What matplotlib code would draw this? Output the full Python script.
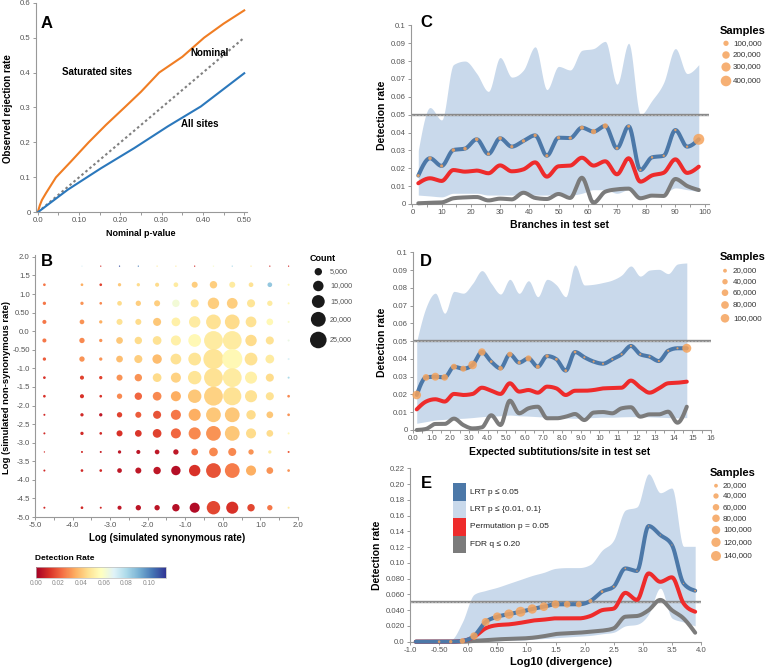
import numpy as np
import matplotlib.pyplot as plt
from matplotlib.colors import Normalize
from matplotlib.cm import ScalarMappable
from matplotlib.patches import Rectangle
from matplotlib.ticker import MultipleLocator

plt.rcParams['font.family'] = ['Liberation Sans', 'DejaVu Sans']

# ---------------- data ----------------
# A: observed vs nominal rejection rate
a_sat_p = [0, 0.005, 0.01, 0.02, 0.044, 0.08, 0.123, 0.165, 0.21, 0.25, 0.294, 0.35, 0.403, 0.45, 0.5]
a_sat = [0, 0.02, 0.035, 0.055, 0.1, 0.145, 0.2, 0.25, 0.3, 0.345, 0.4, 0.445, 0.5, 0.54, 0.578]
a_all_p = [0, 0.073, 0.153, 0.234, 0.315, 0.395, 0.5]
a_all = [0, 0.065, 0.126, 0.184, 0.246, 0.303, 0.398]
a_nominal = [0, 0.5]
a_xticks = [0, 0.1, 0.2, 0.3, 0.4, 0.5]
a_xlabels = ['0.0', '0.10', '0.20', '0.30', '0.40', '0.50']
a_yticks = [0, 0.1, 0.2, 0.3, 0.4, 0.5, 0.6]
a_ylabels = ['0', '0.1', '0.2', '0.3', '0.4', '0.5', '0.6']

# B: grid of simulated rates, count and detection rate per cell
b_x = [-4.75, -3.75, -3.25, -2.75, -2.25, -1.75, -1.25, -0.75, -0.25, 0.25, 0.75, 1.25, 1.75]
b_y = [1.75, 1.25, 0.75, 0.25, -0.25, -0.75, -1.25, -1.75, -2.25, -2.75, -3.25, -3.75, -4.75]
b_count = [
    [0, 150, 150, 150, 150, 150, 150, 150, 150, 150, 150, 150, 150],
    [660, 660, 660, 1000, 1000, 1500, 2000, 3300, 5000, 3300, 2000, 2000, 370],
    [1000, 1000, 660, 2000, 2600, 3300, 5000, 5900, 11800, 10500, 5900, 2600, 370],
    [1500, 2000, 1000, 3300, 3300, 5900, 6900, 11800, 19800, 19800, 10500, 4100, 370],
    [1500, 2600, 1000, 4100, 5000, 6900, 9200, 14800, 32100, 32100, 11800, 5900, 370],
    [1000, 2600, 1000, 4100, 5900, 8000, 10500, 14800, 36900, 36900, 14800, 6900, 370],
    [660, 1500, 1000, 3300, 5000, 6900, 9200, 16400, 32100, 32100, 13300, 5900, 370],
    [660, 1500, 660, 2600, 5000, 6900, 9200, 16400, 32100, 29900, 13300, 5900, 660],
    [370, 1000, 1000, 2600, 3300, 5900, 9200, 13300, 19800, 19800, 8000, 4100, 660],
    [370, 1000, 660, 3300, 4100, 6900, 9200, 13300, 19800, 19800, 9200, 4100, 370],
    [165, 370, 370, 1000, 1500, 2000, 2600, 4100, 6900, 5900, 2600, 1000, 370],
    [370, 660, 660, 2000, 3300, 5000, 8000, 11800, 19800, 19800, 9200, 4100, 660],
    [370, 660, 370, 1500, 2600, 2600, 5000, 9200, 16400, 13300, 5000, 2600, 370],
]
b_rate = [
    [0.05, 0.07, 0.01, 0.11, 0.10, 0.05, 0.05, 0.01, 0.06, 0.08, 0.05, 0.01, 0.01],
    [0.025, 0.035, 0.015, 0.04, 0.045, 0.045, 0.05, 0.042, 0.042, 0.05, 0.047, 0.085, 0.055],
    [0.025, 0.03, 0.028, 0.045, 0.042, 0.042, 0.062, 0.048, 0.042, 0.042, 0.048, 0.05, 0.055],
    [0.025, 0.03, 0.035, 0.047, 0.045, 0.04, 0.052, 0.05, 0.047, 0.045, 0.047, 0.055, 0.06],
    [0.025, 0.028, 0.03, 0.04, 0.045, 0.047, 0.052, 0.055, 0.05, 0.05, 0.045, 0.047, 0.065],
    [0.02, 0.03, 0.03, 0.038, 0.042, 0.038, 0.047, 0.048, 0.048, 0.055, 0.047, 0.05, 0.07],
    [0.012, 0.015, 0.015, 0.03, 0.03, 0.045, 0.043, 0.048, 0.047, 0.05, 0.052, 0.045, 0.08],
    [0.012, 0.012, 0.012, 0.028, 0.022, 0.028, 0.035, 0.04, 0.043, 0.047, 0.047, 0.047, 0.028],
    [0.01, 0.01, 0.006, 0.015, 0.02, 0.018, 0.025, 0.035, 0.04, 0.04, 0.045, 0.04, 0.03],
    [0.01, 0.01, 0.01, 0.012, 0.013, 0.015, 0.022, 0.028, 0.03, 0.04, 0.045, 0.045, 0.055],
    [0.01, 0.01, 0.008, 0.006, 0.005, 0.006, 0.006, 0.025, 0.028, 0.028, 0.03, 0.05, 0.02],
    [0.01, 0.01, 0.01, 0.006, 0.006, 0.006, 0.004, 0.012, 0.018, 0.026, 0.035, 0.03, 0.03],
    [0.01, 0.01, 0.01, 0.006, 0.005, 0.005, 0.004, 0.003, 0.016, 0.012, 0.016, 0.025, 0.05],
]
b_xticks = [-5, -4, -3, -2, -1, 0, 1, 2]
b_xlabels = ['-5.0', '-4.0', '-3.0', '-2.0', '-1.0', '0.0', '1.0', '2.0']
b_yticks = [2.0, 1.5, 1.0, 0.5, 0.0, -0.5, -1.0, -1.5, -2.0, -2.5, -3.0, -3.5, -4.0, -4.5, -5.0]
b_ylabels = ['2.0', '1.5', '1.0', '0.50', '0.0', '-0.50', '-1.0', '-1.5', '-2.0', '-2.5',
             '-3.0', '-3.5', '-4.0', '-4.5', '-5.0']
b_legend = [5000, 10000, 15000, 20000, 25000]
cbar_ticks = [0, 0.02, 0.04, 0.06, 0.08, 0.10]
cbar_labels = ['0.00', '0.02', '0.04', '0.06', '0.08', '0.10']

# C: detection rate vs branches in test set
c_x = [2, 6, 10, 14, 18, 22, 26, 30, 34, 38, 42, 46, 50, 54, 58, 62, 66, 70, 74, 78, 82, 86, 90, 94, 98]
c_lrt = [0.0159, 0.0256, 0.0213, 0.0302, 0.031, 0.0362, 0.028, 0.0368, 0.0321, 0.0353, 0.0384, 0.027, 0.0371,
         0.0369, 0.0427, 0.0405, 0.0437, 0.0312, 0.0435, 0.019, 0.0261, 0.027, 0.0414, 0.0321, 0.0362]
c_perm = [0.0116, 0.0144, 0.0129, 0.019, 0.0181, 0.0187, 0.0172, 0.0216, 0.0183, 0.0194, 0.0233, 0.0153, 0.0211,
          0.0215, 0.0259, 0.0215, 0.0239, 0.0166, 0.0256, 0.0125, 0.016, 0.0175, 0.025, 0.0174, 0.0209]
c_fdr = [0.0004, 0.0007, 0.0009, 0.0032, 0.0037, 0.0039, 0.002, 0.003, 0.0026, 0.0063, 0.0034, 0.0028, 0.0056,
         0.0034, 0.0147, 0.0007, 0.0069, 0.0082, 0.0086, 0.0032, 0.0047, 0.0045, 0.014, 0.0101, 0.0078]
c_hi = [0.03, 0.054, 0.047, 0.078, 0.08, 0.073, 0.063, 0.082, 0.071, 0.075, 0.088, 0.064, 0.077,
        0.075, 0.086, 0.087, 0.091, 0.067, 0.09, 0.05, 0.058, 0.068, 0.087, 0.073, 0.078]
c_lo = [0.005, 0.0045, 0.004, 0.006, 0.006, 0.006, 0.005, 0.005, 0.005, 0.006, 0.005, 0.005, 0.006,
        0.005, 0.006, 0.008, 0.008, 0.006, 0.008, 0.004, 0.006, 0.006, 0.009, 0.008, 0.007]
c_n = [30000, 45000, 35000, 45000, 45000, 45000, 35000, 45000, 35000, 40000, 40000, 35000, 40000,
       40000, 60000, 100000, 100000, 30000, 30000, 20000, 20000, 20000, 20000, 20000, 430000]
c_legend = [100000, 200000, 300000, 400000]

# D: detection rate vs expected substitutions/site
d_x = [0.2, 0.7, 1.2, 1.7, 2.2, 2.7, 3.2, 3.7, 4.2, 4.7, 5.2, 5.7, 6.2, 6.7, 7.2, 7.7, 8.2, 8.7, 9.2, 9.7,
       10.2, 10.7, 11.2, 11.7, 12.2, 12.7, 13.2, 13.7, 14.2, 14.7]
d_lrt = [0.0197, 0.0296, 0.030, 0.0296, 0.0356, 0.0345, 0.0366, 0.0439, 0.0385, 0.0347, 0.0426, 0.0379, 0.0403,
         0.0356, 0.0416, 0.0398, 0.0334, 0.0439, 0.0409, 0.0385, 0.0373, 0.0398, 0.0426, 0.0473, 0.0426, 0.0413,
         0.0388, 0.0446, 0.046, 0.046]
d_perm = [0.0116, 0.016, 0.0173, 0.016, 0.0203, 0.0197, 0.0203, 0.0238, 0.0221, 0.0203, 0.0263, 0.0216, 0.0225,
          0.021, 0.0244, 0.0234, 0.0197, 0.0221, 0.0221, 0.0225, 0.0234, 0.0236, 0.0238, 0.0278, 0.024, 0.021,
          0.0234, 0.0263, 0.0266, 0.0272]
d_fdr = [0.0, 0.0006, 0.0034, 0.0034, 0.0064, 0.0028, 0.0009, 0.0015, 0.0083, 0.0028, 0.0165, 0.0094, 0.0122,
         0.0131, 0.0066, 0.0066, 0.0075, 0.009, 0.0056, 0.0098, 0.0101, 0.0094, 0.0122, 0.0128, 0.0075, 0.0088,
         0.0088, 0.0103, 0.0041, 0.0131]
d_hi = [0.05, 0.069, 0.077, 0.0657, 0.078, 0.077, 0.0825, 0.0897, 0.0825, 0.0765, 0.0848, 0.0769, 0.084, 0.075,
        0.0848, 0.0816, 0.075, 0.0929, 0.0816, 0.082, 0.083, 0.0844, 0.0872, 0.0923, 0.0866, 0.09, 0.0904,
        0.088, 0.0934, 0.094]
d_lo = [0.0038, 0.0047, 0.0056, 0.006, 0.0064, 0.0066, 0.007, 0.0075, 0.0078, 0.008, 0.0084, 0.008, 0.0078,
        0.0075, 0.0072, 0.007, 0.0068, 0.0066, 0.0068, 0.007, 0.0072, 0.0072, 0.0074, 0.0075, 0.0075, 0.0074,
        0.0072, 0.007, 0.0068, 0.007]
d_n = [101000, 60000, 86000, 60000, 49000, 49000, 100000, 73000, 10000, 29000, 38000, 15000, 49000, 22000,
       15000, 10000, 10000, 10000, 6000, 6000, 6000, 6000, 6000, 6000, 6000, 6000, 6000, 6000, 6000, 110000]
d_legend = [20000, 40000, 60000, 80000, 100000]
d_xticks = list(range(17))
d_xlabels = ['0.0', '1.0', '2.0', '3.0', '4.0', '5.0', '6.0', '7.0', '8.0', '9.0',
             '10', '11', '12', '13', '14', '15', '16']

# E: detection rate vs log10 divergence
e_x = [-0.9, -0.7, -0.5, -0.3, -0.1, 0.1, 0.3, 0.5, 0.7, 0.9, 1.1, 1.3, 1.5, 1.7, 1.9, 2.1, 2.3, 2.5,
       2.7, 2.9, 3.1, 3.3, 3.5, 3.7, 3.9]
e_lrt = [0, 0, 0, 0, 0.001, 0.0072, 0.025, 0.0317, 0.035, 0.038, 0.0415, 0.0444, 0.0474, 0.0474, 0.0474,
         0.0516, 0.0635, 0.0698, 0.093, 0.0897, 0.1468, 0.1354, 0.1227, 0.074, 0.0647]
e_perm = [0, 0, 0, 0, 0.001, 0.006, 0.017, 0.021, 0.022, 0.024, 0.0267, 0.028, 0.0296, 0.0296, 0.0296,
          0.0326, 0.040, 0.042, 0.062, 0.053, 0.0867, 0.076, 0.0817, 0.0487, 0.038]
e_fdr = [0, 0, 0, 0, 0, 0.001, 0.002, 0.003, 0.0035, 0.004, 0.005, 0.007, 0.0097, 0.0106, 0.0114,
         0.0127, 0.014, 0.017, 0.0317, 0.0326, 0.04, 0.053, 0.04, 0.0296, 0.0114]
e_hi = [0, 0, 0, 0.002, 0.025, 0.06, 0.065, 0.069, 0.074, 0.079, 0.084, 0.088, 0.093, 0.094, 0.094,
        0.098, 0.116, 0.129, 0.167, 0.171, 0.213, 0.189, 0.195, 0.121, 0.121]
e_lo = [0, 0, 0, 0, 0, 0, 0.001, 0.001, 0.002, 0.002, 0.003, 0.004, 0.005, 0.006, 0.007,
        0.008, 0.01, 0.012, 0.02, 0.022, 0.035, 0.068, 0.03, 0.025, 0.02]
e_n = [0, 0, 9500, 16000, 41000, 77000, 90000, 104000, 123000, 140000, 123000, 104000, 90000, 61000, 50000,
       22000, 9500, 5600, 4000, 3000, 2000, 2000, 2000, 2000, 5000]
e_legend = [20000, 40000, 60000, 80000, 100000, 120000, 140000]
e_xticks = [-1.0, -0.5, 0.0, 0.5, 1.0, 1.5, 2.0, 2.5, 3.0, 3.5, 4.0]
e_xlabels = ['-1.0', '-0.50', '0.0', '0.50', '1.0', '1.5', '2.0', '2.5', '3.0', '3.5', '4.0']
e_yticks = [0, 0.02, 0.04, 0.06, 0.08, 0.10, 0.12, 0.14, 0.16, 0.18, 0.20, 0.22]
e_ylabels = ['0.0', '0.020', '0.040', '0.060', '0.080', '0.10', '0.12', '0.14', '0.16', '0.18', '0.20', '0.22']
e_series = ['LRT p \u2264 0.05', 'LRT p \u2264 {0.01, 0.1}', 'Permutation p = 0.05', 'FDR q \u2264 0.20']

cd_yticks = [0, 0.01, 0.02, 0.03, 0.04, 0.05, 0.06, 0.07, 0.08, 0.09, 0.1]
cd_ylabels = ['0', '0.01', '0.02', '0.03', '0.04', '0.05', '0.06', '0.07', '0.08', '0.09', '0.1']

# ---------------- style ----------------
BLUE = '#4c78a8'
BAND = '#c9d9eb'
RED = '#ee2b2b'
GRAY = '#7b7b7b'
ORANGE = '#f5a35c'
SPINE = '#999999'
TICKTXT = '#555555'

W, H = 768, 669
fig = plt.figure(figsize=(W / 100, H / 100), dpi=100)


def box(l, t, r, b):
    return [l / W, 1 - b / H, (r - l) / W, (b - t) / H]


def ftext(x, y, s, **kw):
    kw.setdefault('va', 'center')
    fig.text(x / W, 1 - y / H, s, **kw)


def style(ax):
    for s in ('top', 'right'):
        ax.spines[s].set_visible(False)
    for s in ('left', 'bottom'):
        ax.spines[s].set_color(SPINE)
        ax.spines[s].set_linewidth(0.8)
    ax.tick_params(which='both', colors=SPINE, labelcolor=TICKTXT, labelsize=5.6,
                   length=2.5, width=0.7, pad=1.2)
    ax.set_facecolor('none')


def curve(x, y, n=12):
    # monotone cubic drawing of a series (like d3 curveMonotoneX)
    x = np.asarray(x, float)
    y = np.asarray(y, float)
    h = np.diff(x)
    s = np.diff(y) / h
    m = np.zeros_like(y)
    for i in range(1, len(x) - 1):
        p = (s[i - 1] * h[i] + s[i] * h[i - 1]) / (h[i - 1] + h[i])
        m[i] = (np.sign(s[i - 1]) + np.sign(s[i])) * min(abs(s[i - 1]), abs(s[i]), 0.5 * abs(p))
    m[0] = (3 * s[0] - m[1]) / 2
    m[-1] = (3 * s[-1] - m[-2]) / 2
    t = np.linspace(0, 1, n, endpoint=False)
    xs, ys = [], []
    for i in range(len(x) - 1):
        h00 = 2 * t**3 - 3 * t**2 + 1
        h10 = t**3 - 2 * t**2 + t
        h01 = -2 * t**3 + 3 * t**2
        h11 = t**3 - t**2
        xs.append(x[i] + t * h[i])
        ys.append(h00 * y[i] + h10 * h[i] * m[i] + h01 * y[i + 1] + h11 * h[i] * m[i + 1])
    xs.append([x[-1]])
    ys.append([y[-1]])
    return np.concatenate(xs), np.concatenate(ys)


def rate_panel(ax, x, hi, lo, fdr, perm, lrt, n, k):
    xs, yh = curve(x, hi)
    _, yl = curve(x, lo)
    ax.fill_between(xs, yl, yh, color=BAND, lw=0, zorder=1)
    ax.axhline(0.05, color='#8a8a8a', lw=1.7, zorder=2)
    ax.axhline(0.05, color='#c4c4c4', lw=0.5, dashes=(3, 2), zorder=2)
    for ys, col in ((fdr, GRAY), (perm, RED), (lrt, BLUE)):
        cx, cy = curve(x, ys)
        ax.plot(cx, cy, color=col, lw=2.9, solid_capstyle='round', zorder=3, clip_on=False)
    ax.scatter(x, lrt, s=np.array(n) * k, color=ORANGE, alpha=0.85, lw=0, zorder=4, clip_on=False)
    style(ax)


# ---------------- A ----------------
axA = fig.add_axes(box(35.7, 2.7, 246.7, 212.3))
axA.plot(a_nominal, a_nominal, color='#808080', lw=1.5, dashes=(1.2, 1.3))
axA.plot(a_sat_p, a_sat, color='#f07d23', lw=1.5)
axA.plot(a_all_p, a_all, color='#2b78bc', lw=1.5)
axA.set_xlim(-0.005, 0.506)
axA.set_ylim(0, 0.6)
axA.set_xticks(a_xticks, a_xlabels)
axA.xaxis.set_minor_locator(MultipleLocator(0.05))
axA.set_yticks(a_yticks, a_ylabels)
style(axA)
axA.text(0.144, 0.402, 'Saturated sites', fontsize=7, fontweight='bold', ha='center', va='center')
axA.text(0.417, 0.456, 'Nominal', fontsize=7, fontweight='bold', ha='center', va='center')
axA.text(0.393, 0.253, 'All sites', fontsize=7, fontweight='bold', ha='center', va='center')
ftext(41, 23, 'A', fontsize=12, fontweight='bold')
ftext(8.5, 109, 'Observed rejection rate', fontsize=7, fontweight='bold', rotation=90, ha='center')
ftext(140.5, 233.3, 'Nominal p-value', fontsize=6.5, fontweight='bold', ha='center')

# ---------------- B ----------------
axB = fig.add_axes(box(35, 255, 298, 517))
norm = Normalize(0, 0.115)
cmap = plt.get_cmap('RdYlBu')
kB = 5.7e-3
gx, gy = np.meshgrid(b_x, b_y)
cnt = np.array(b_count, float)
rate = np.array(b_rate, float)
keep = cnt > 0
axB.scatter(gx[keep], gy[keep], s=cnt[keep] * kB, c=rate[keep], cmap=cmap, norm=norm, lw=0, zorder=3)
axB.set_xlim(-5, 2.0)
axB.set_ylim(-5, 2.05)
axB.set_xticks(b_xticks, b_xlabels)
axB.xaxis.set_minor_locator(MultipleLocator(0.5))
axB.set_yticks(b_yticks, b_ylabels)
style(axB)
ftext(41, 261.7, 'B', fontsize=12, fontweight='bold')
ftext(7, 387, 'Log (simulated non-synonymous rate)', fontsize=6.8, fontweight='bold', rotation=90, ha='center')
ftext(166.7, 538.3, 'Log (simulated synonymous rate)', fontsize=7, fontweight='bold', ha='center')

cax = fig.add_axes(box(36, 567, 166, 578))
cb = fig.colorbar(ScalarMappable(norm=norm, cmap=cmap), cax=cax, orientation='horizontal')
cb.set_ticks(cbar_ticks, labels=cbar_labels)
cb.outline.set_edgecolor('#bbbbbb')
cb.outline.set_linewidth(0.5)
cax.tick_params(labelsize=4.8, length=0, colors='#8a8a8a', pad=1.5)
ftext(35, 559, 'Detection Rate', fontsize=6, fontweight='bold', ha='left')

# ---------------- C ----------------
axC = fig.add_axes(box(410.7, 25.3, 709, 204))
kC = 1.45e-4
rate_panel(axC, c_x, c_hi, c_lo, c_fdr, c_perm, c_lrt, c_n, kC)
axC.set_xlim(-0.6, 101.5)
axC.set_ylim(0, 0.1)
axC.set_xticks(range(0, 101, 10))
axC.xaxis.set_minor_locator(MultipleLocator(5))
axC.set_yticks(cd_yticks, cd_ylabels)
ftext(420, 22.5, 'C', fontsize=12, fontweight='bold')
ftext(381.7, 115, 'Detection rate', fontsize=7.5, fontweight='bold', rotation=90, ha='center')
ftext(560, 225, 'Branches in test set', fontsize=7.5, fontweight='bold', ha='center')

# ---------------- D ----------------
axD = fig.add_axes(box(413, 252.3, 711, 430))
kD = 3.83e-4
rate_panel(axD, d_x, d_hi, d_lo, d_fdr, d_perm, d_lrt, d_n, kD)
axD.set_xlim(0, 16)
axD.set_ylim(0, 0.1)
axD.set_xticks(d_xticks, d_xlabels)
axD.xaxis.set_minor_locator(MultipleLocator(0.5))
axD.set_yticks(cd_yticks, cd_ylabels)
ftext(420, 261.7, 'D', fontsize=12, fontweight='bold')
ftext(381.7, 342.5, 'Detection rate', fontsize=7.5, fontweight='bold', rotation=90, ha='center')
ftext(560, 451.7, 'Expected subtitutions/site in test set', fontsize=7.5, fontweight='bold', ha='center')

# ---------------- E ----------------
axE = fig.add_axes(box(410, 468.3, 701, 641.7))
kE = 3.7e-4
rate_panel(axE, e_x, e_hi, e_lo, e_fdr, e_perm, e_lrt, e_n, kE)
axE.set_xlim(-1.0, 4.0)
axE.set_ylim(0, 0.22)
axE.set_xticks(e_xticks, e_xlabels)
axE.set_yticks(e_yticks, e_ylabels)
ftext(421, 484, 'E', fontsize=12, fontweight='bold')
ftext(376.7, 555, 'Detection rate', fontsize=7.5, fontweight='bold', rotation=90, ha='center')
ftext(560.7, 661.7, 'Log10 (divergence)', fontsize=8, fontweight='bold', ha='center')

# ---------------- legends (pixel overlay) ----------------
ov = fig.add_axes([0, 0, 1, 1])
ov.set_xlim(0, W)
ov.set_ylim(H, 0)
ov.axis('off')

# count legend for B
b_leg_y = [271.7, 286, 301.5, 319.3, 340]
ov.scatter([318.3] * len(b_legend), b_leg_y, s=np.array(b_legend) * kB, color='#1a1a1a', lw=0)
for v, y in zip(b_legend, b_leg_y):
    ftext(330, y, f'{v:,}', fontsize=5.2, color=TICKTXT)
ftext(310, 258.5, 'Count', fontsize=6.5, fontweight='bold')


def samples_legend(vals, k, ys, cx, tx, title_y, title_x):
    ov.scatter([cx] * len(vals), ys, s=np.array(vals) * k, color=ORANGE, alpha=0.85, lw=0)
    for v, y in zip(vals, ys):
        ftext(tx, y, f'{v:,}', fontsize=5.8, color='#333333')
    ftext(title_x, title_y, 'Samples', fontsize=8, fontweight='bold')


samples_legend(c_legend, kC, [43.3, 55, 67, 81], 726, 733, 30.7, 720)
samples_legend(d_legend, kD, [270.7, 281.7, 292.7, 305, 318.3], 725, 733, 257, 720)
samples_legend(e_legend, kE, [485.7, 496, 507.3, 518.3, 530, 542.3, 556], 716, 723, 473, 710)

# series legend in E
e_cols = [BLUE, BAND, RED, GRAY]
e_leg_y = [483.3, 500.7, 518.1, 535.5]
for lab, col, y in zip(e_series, e_cols, e_leg_y):
    ov.add_patch(Rectangle((452.7, y), 13.3, 17.4, color=col, lw=0))
    ftext(470, y + 8.7, lab, fontsize=6, color='#222222')

fig.savefig('out.png', dpi=100)
